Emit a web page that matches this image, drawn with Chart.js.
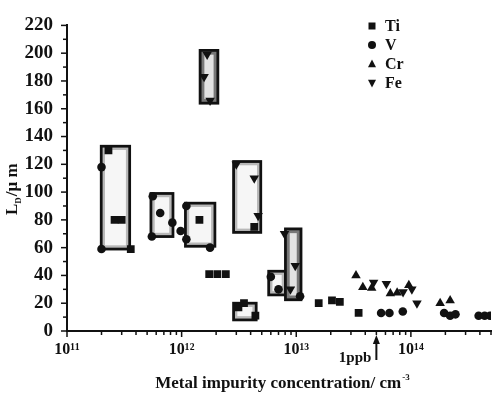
<!DOCTYPE html>
<html>
<head>
<meta charset="utf-8">
<script src="https://cdn.jsdelivr.net/npm/chart.js@4/dist/chart.umd.min.js"></script>
<style>
  html, body { margin: 0; padding: 0; background: #fff; }
  #c { display: block; }
</style>
</head>
<body>
<canvas id="c" width="500" height="396"></canvas>
<script>
// ---------------- data ----------------
const seriesNames = ["Ti", "V", "Cr", "Fe"];

const tiX = [2.3e11, 2.6e11, 3.0e11, 3.6e11, 1.43e12, 1.74e12, 2.05e12, 2.43e12, 3.13e12, 3.5e12, 4.4e12, 4.3e12, 1.57e13, 2.05e13, 2.4e13, 3.5e13];
const tiY = [130, 80, 80, 59, 80, 41, 41, 41, 17, 20, 11, 75, 20, 22, 21, 13];

const vX = [2.0e11, 2.0e11, 5.6e11, 6.5e11, 8.3e11, 5.5e11, 9.8e11, 1.1e12, 1.1e12, 1.77e12, 6.0e12, 7.0e12, 1.08e13, 5.5e13, 6.5e13, 8.5e13, 1.95e14, 2.2e14, 2.45e14, 3.9e14, 4.4e14, 4.9e14];
const vY = [118, 59, 97, 85, 78, 68, 72, 90, 66, 60, 39, 30, 25, 13, 13, 14, 13, 11, 12, 11, 11, 11];

const crX = [3.32e13, 3.81e13, 4.55e13, 6.62e13, 7.59e13, 9.6e13, 1.8e14, 2.2e14];
const crY = [40, 31.5, 31, 27, 27.5, 33, 20, 22];

const feX = [1.57e12, 1.67e12, 1.77e12, 3.0e12, 4.3e12, 4.65e12, 7.9e12, 9.8e12, 8.9e12, 4.73e13, 6.11e13, 8.55e13, 1.02e14, 1.13e14];
const feY = [183, 199, 166, 120, 110, 83, 70, 47, 30, 35, 34, 28, 30, 20];

// range boxes
const boxXMin = [1.99e11, 5.4e11, 1.08e12, 1.45e12, 2.84e12, 2.84e12, 5.75e12, 8.05e12];
const boxXMax = [3.52e11, 8.4e11, 1.95e12, 2.07e12, 4.9e12, 4.47e12, 8.05e12, 1.1e13];
const boxYMin = [59, 68, 61, 164, 71, 8, 26, 22.5];
const boxYMax = [133, 99, 92, 202, 122, 20, 43, 73.5];

// axis values
const xMin = 1e11, xMax = 5e14;
const yMin = 0, yMax = 220;
const yTickStep = 10, yLabelStep = 20;
const xDecades = [11, 12, 13, 14];
const ppbValue = 5e13;   // 1 ppb marker

// ---------------- styles ----------------
const INK = '#111';
const SERIF = '"Liberation Serif", "Times New Roman", "DejaVu Serif", serif';
const darkBoxes = [3, 7];

function pts(xs, ys) { return xs.map((x, i) => ({ x: x, y: ys[i] })); }
const SUP = { '0':'⁰','1':'¹','2':'²','3':'³','4':'⁴','5':'⁵','6':'⁶','7':'⁷','8':'⁸','9':'⁹','-':'⁻' };
function sup(s) { return String(s).split('').map(c => SUP[c] || c).join(''); }

const boxPlugin = {
  id: 'boxes',
  beforeDatasetsDraw(chart) {
    const ctx = chart.ctx, xs = chart.scales.x, ys = chart.scales.y;
    ctx.save();
    for (let i = 0; i < boxXMin.length; i++) {
      const x0 = xs.getPixelForValue(boxXMin[i]), x1 = xs.getPixelForValue(boxXMax[i]);
      const y0 = ys.getPixelForValue(boxYMax[i]), y1 = ys.getPixelForValue(boxYMin[i]);
      const dark = darkBoxes.includes(i);
      ctx.fillStyle = dark ? '#e2e2e2' : '#f6f6f6';
      ctx.fillRect(x0, y0, x1 - x0, y1 - y0);
      ctx.strokeStyle = dark ? '#777' : '#b8b8b8';
      ctx.lineWidth = dark ? 3.5 : 2.5;
      ctx.strokeRect(x0 + 2.5, y0 + 2.5, x1 - x0 - 5, y1 - y0 - 5);
      ctx.strokeStyle = INK;
      ctx.lineWidth = 2.8;
      ctx.strokeRect(x0, y0, x1 - x0, y1 - y0);
    }
    ctx.restore();
  }
};

function drawMarker(ctx, style, x, y, r) {
  ctx.beginPath();
  if (style === 'rect') {
    ctx.rect(x - r, y - r, 2 * r, 2 * r);
  } else if (style === 'circle') {
    ctx.arc(x, y, r, 0, Math.PI * 2);
  } else if (style === 'up') {
    ctx.moveTo(x, y - r * 1.1); ctx.lineTo(x + r, y + r * 0.8); ctx.lineTo(x - r, y + r * 0.8); ctx.closePath();
  } else {
    ctx.moveTo(x, y + r * 1.1); ctx.lineTo(x + r, y - r * 0.8); ctx.lineTo(x - r, y - r * 0.8); ctx.closePath();
  }
  ctx.fill();
}

const decorPlugin = {
  id: 'decor',
  afterDraw(chart) {
    const ctx = chart.ctx, xs = chart.scales.x, ys = chart.scales.y, ca = chart.chartArea;
    ctx.save();
    ctx.strokeStyle = INK; ctx.fillStyle = INK;
    ctx.lineWidth = 1.5;
    xs.ticks.forEach(t => {
      const px = xs.getPixelForValue(t.value);
      const major = Math.abs(Math.log10(t.value) - Math.round(Math.log10(t.value))) < 1e-9;
      ctx.beginPath(); ctx.moveTo(px, ca.bottom); ctx.lineTo(px, ca.bottom + (major ? 6 : 4)); ctx.stroke();
    });
    ys.ticks.forEach(t => {
      const py = ys.getPixelForValue(t.value);
      const major = t.value % yLabelStep === 0;
      ctx.beginPath(); ctx.moveTo(ca.left, py); ctx.lineTo(ca.left - (major ? 6 : 4), py); ctx.stroke();
    });

    // legend
    const legStyles = ['rect', 'circle', 'up', 'down'];
    const legSizes = [3.5, 4, 4, 4];
    ctx.font = 'bold 16px ' + SERIF;
    ctx.textBaseline = 'middle'; ctx.textAlign = 'left';
    seriesNames.forEach((n, i) => {
      const y = 26 + i * 19;
      drawMarker(ctx, legStyles[i], 372, y, legSizes[i]);
      ctx.fillText(n, 385, y + 1);
    });

    // x title
    ctx.textBaseline = 'alphabetic';
    ctx.font = 'bold 17px ' + SERIF;
    const main = 'Metal impurity concentration/ cm';
    const w = ctx.measureText(main).width;
    ctx.font = 'bold 9px ' + SERIF;
    const w2 = ctx.measureText('-3').width;
    const startX = 282 - (w + w2) / 2;
    ctx.font = 'bold 17px ' + SERIF;
    ctx.fillText(main, startX, 388);
    ctx.font = 'bold 9px ' + SERIF;
    ctx.fillText('-3', startX + w + 1, 380);

    // y title (rotated)
    ctx.save();
    ctx.translate(17, 215);
    ctx.rotate(-Math.PI / 2);
    ctx.font = 'bold 17px ' + SERIF;
    ctx.fillText('L', 0, 0);
    let off = ctx.measureText('L').width;
    ctx.font = 'bold 9px ' + SERIF;
    ctx.fillText('D', off, 4);
    off += ctx.measureText('D').width + 1;
    ctx.font = 'bold 17px ' + SERIF;
    ctx.fillText('/\u03bc m', off, 0);
    ctx.restore();

    // 1 ppb marker
    const px = xs.getPixelForValue(ppbValue);
    ctx.font = 'bold 15px ' + SERIF;
    ctx.textAlign = 'right';
    ctx.fillText('1ppb', px - 5, 362);
    ctx.lineWidth = 2;
    ctx.beginPath(); ctx.moveTo(px, 360); ctx.lineTo(px, 342); ctx.stroke();
    ctx.beginPath(); ctx.moveTo(px, 335); ctx.lineTo(px + 3.5, 344); ctx.lineTo(px - 3.5, 344); ctx.closePath(); ctx.fill();
    ctx.restore();
  }
};

const common = { showLine: false, pointBackgroundColor: INK, pointBorderColor: INK, pointBorderWidth: 0 };

new Chart(document.getElementById('c'), {
  type: 'scatter',
  data: {
    datasets: [
      Object.assign({ label: seriesNames[0], data: pts(tiX, tiY), pointStyle: 'rect', pointRadius: 5.5 }, common),
      Object.assign({ label: seriesNames[1], data: pts(vX, vY), pointStyle: 'circle', pointRadius: 4.3 }, common),
      Object.assign({ label: seriesNames[2], data: pts(crX, crY), pointStyle: 'triangle', pointRadius: 5.5 }, common),
      Object.assign({ label: seriesNames[3], data: pts(feX, feY), pointStyle: 'triangle', pointRotation: 180, pointRadius: 5.5 }, common)
    ]
  },
  options: {
    responsive: false,
    animation: false,
    devicePixelRatio: 1,
    layout: { padding: { top: 15, left: 0, right: 0, bottom: 0 } },
    plugins: { legend: { display: false }, tooltip: { enabled: false } },
    scales: {
      x: {
        type: 'logarithmic',
        min: xMin, max: xMax,
        grid: { display: false, drawTicks: false },
        border: { display: true, color: INK, width: 2 },
        afterBuildTicks(scale) {
          const t = [];
          xDecades.forEach(d => {
            for (let m = 1; m <= 9; m++) {
              const v = m * Math.pow(10, d);
              if (v <= xMax * 1.0001) t.push({ value: v });
            }
          });
          scale.ticks = t;
        },
        afterFit(scale) { scale.height = 65; },
        ticks: {
          autoSkip: false, maxRotation: 0, minRotation: 0, padding: 9,
          color: INK, font: { family: SERIF, size: 16, weight: 'bold' },
          callback(v) {
            const l = Math.log10(v);
            return Math.abs(l - Math.round(l)) < 1e-9 ? '10' + sup(Math.round(l)) : '';
          }
        }
      },
      y: {
        min: yMin, max: yMax,
        grid: { display: false, drawTicks: false },
        border: { display: true, color: INK, width: 2 },
        afterFit(scale) { scale.width = 67; },
        ticks: {
          stepSize: yTickStep, autoSkip: false, padding: 14,
          color: INK, font: { family: SERIF, size: 19, weight: 'bold' },
          callback(v) { return v % yLabelStep === 0 ? String(v) : ''; }
        }
      }
    }
  },
  plugins: [boxPlugin, decorPlugin]
});
</script>
</body>
</html>
